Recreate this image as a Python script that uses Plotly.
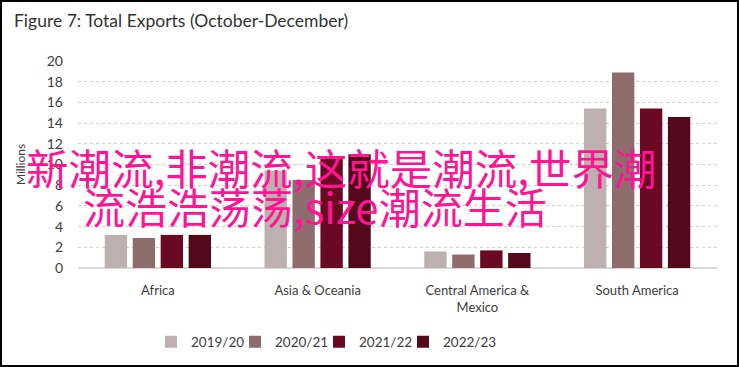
import plotly.graph_objects as go

categories = ["Africa", "Asia & Oceania", "Central America &<br>Mexico", "South America"]
series_names = ["2019/20", "2020/21", "2021/22", "2022/23"]
v_2019_20 = [3.2, 9.4, 1.6, 15.4]
v_2020_21 = [2.9, 8.5, 1.3, 18.9]
v_2021_22 = [3.2, 10.8, 1.7, 15.4]
v_2022_23 = [3.2, 11.0, 1.45, 14.6]
y_ticks = [0, 2, 4, 6, 8, 10, 12, 14, 16, 18, 20]
title_text = "Figure 7: Total Exports (October-December)"
overlay_line1 = "新潮流,非潮流,这就是潮流,世界潮"
overlay_line2 = "流浩浩荡荡,size潮流生活"

colors = ["#BEB0B0", "#8E6B6E", "#690A22", "#530919"]
values = [v_2019_20, v_2020_21, v_2021_22, v_2022_23]

W, H = 739, 367
ML, MR, MT, MB = 78, 22, 61, 99
PW, PH = W - ML - MR, H - MT - MB

def px(x):
    return (x - ML) / PW

def py(y):
    return (H - MB - y) / PH

FONT = "Lato"
TXT = "#404040"

legend_ids = ["legend", "legend2", "legend3", "legend4"]
legend_x_px = [151, 235, 319, 403]

fig = go.Figure()
for name, vals, c, lg in zip(series_names, values, colors, legend_ids):
    fig.add_trace(go.Bar(x=categories, y=vals, name=name, legend=lg,
                         marker=dict(color=c, line=dict(width=0))))

legend_layout = {}
for lg, lx in zip(legend_ids, legend_x_px):
    legend_layout[lg] = dict(orientation="h", x=px(lx), xanchor="left", y=py(342), yanchor="middle",
                             font=dict(size=13.5, color=TXT), itemwidth=30, bgcolor="rgba(0,0,0,0)")

fig.update_layout(
    width=W, height=H,
    margin=dict(l=ML, r=MR, t=MT, b=MB, autoexpand=False),
    paper_bgcolor="white", plot_bgcolor="white",
    barmode="group", bargap=0.3, bargroupgap=0.2,
    font=dict(family=FONT, color=TXT, size=13),
    showlegend=True,
    xaxis=dict(showgrid=False, showline=False, ticks="", tickfont=dict(size=13, color=TXT),
               ticklabelstandoff=13),
    yaxis=dict(range=[0, 20], tickvals=y_ticks, showgrid=True, gridcolor="#D0D0D0", griddash="dot",
               gridwidth=1, zeroline=True, zerolinecolor="#D9D9D9", zerolinewidth=2,
               showline=False, ticks="", tickfont=dict(size=14, color=TXT), ticklabelstandoff=14,
               title=dict(text="Millions", font=dict(size=12, color=TXT), standoff=18)),
    shapes=[dict(type="rect", xref="paper", yref="paper",
                 x0=px(1), x1=px(W - 1), y0=py(H - 1), y1=py(1),
                 line=dict(color="black", width=2), fillcolor="rgba(0,0,0,0)", layer="above")],
    annotations=[
        dict(text=title_text, xref="paper", yref="paper", x=px(12), y=py(20), xanchor="left",
             yanchor="middle", showarrow=False, font=dict(size=17.5, color="#333333", family=FONT)),
        dict(text=overlay_line1, xref="paper", yref="paper", x=px(24), y=py(166), xanchor="left",
             yanchor="middle", showarrow=False,
             font=dict(size=42.5, color="#FF1493", family="Noto Sans CJK SC")),
        dict(text=overlay_line2, xref="paper", yref="paper", x=px(81), y=py(205), xanchor="left",
             yanchor="middle", showarrow=False,
             font=dict(size=42, color="#FF1493", family="Noto Sans CJK SC")),
    ],
    **legend_layout,
)

fig.write_html("out.html", config={"displayModeBar": False},
               post_script="document.body.style.margin='0';document.body.style.overflow='hidden';")
